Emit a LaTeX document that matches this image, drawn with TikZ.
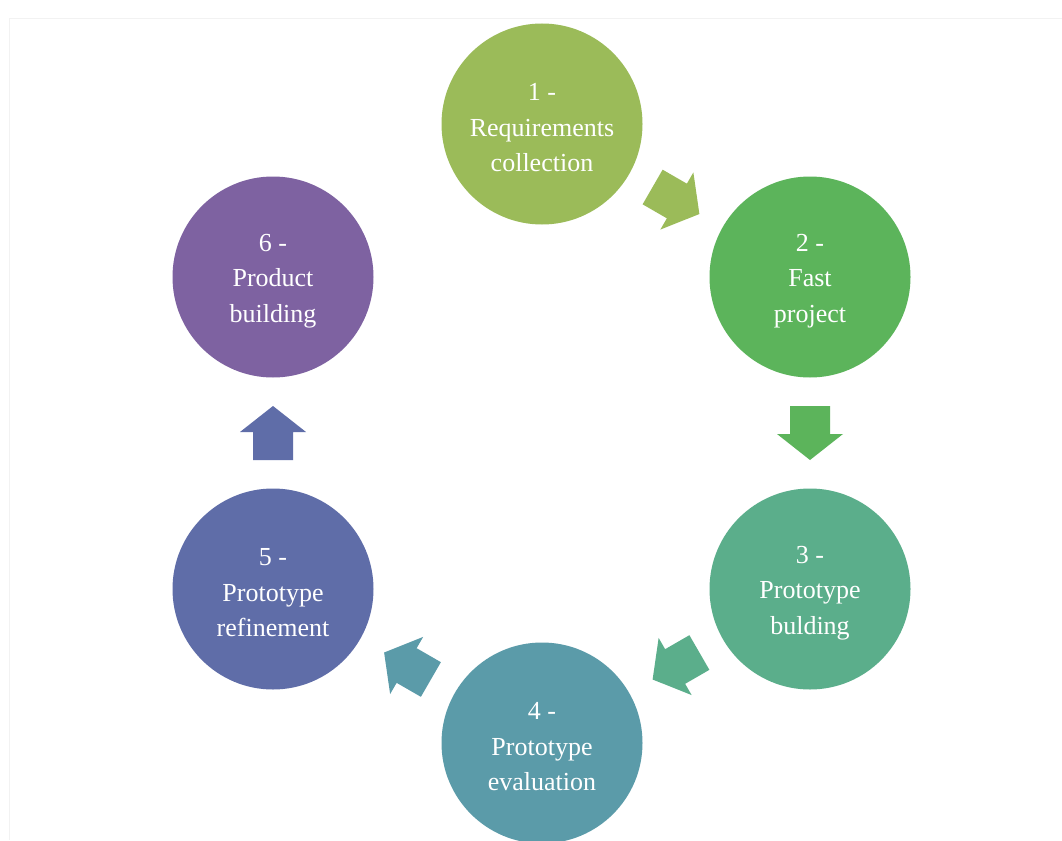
\documentclass[tikz,border=0pt]{standalone}
\usepackage{fontspec}
\setmainfont{Liberation Serif}
\usetikzlibrary{calc}

\definecolor{cA}{HTML}{9BBB59}
\definecolor{cB}{HTML}{5CB45B}
\definecolor{cC}{HTML}{5BAE8B}
\definecolor{cD}{HTML}{5B9BA9}
\definecolor{cE}{HTML}{5F6DA8}
\definecolor{cF}{HTML}{7E62A1}

\tikzset{
  stage/.style={circle, minimum size=201pt, inner sep=0pt, draw=none},
  stagetext/.style={text=white, align=center, inner sep=0pt, yshift=-4pt,
    font=\fontsize{26}{35.5}\selectfont},
  blockarrow/.style={draw=none}
}

% block arrow centred between two stages, pointing along the given angle
\newcommand{\stagearrow}[4]{%
  \fill[blockarrow, #4, shift={($(#1)!0.5!(#2)$)}, rotate=#3]
    (-27,-20) -- (1,-20) -- (1,-33) -- (27,0) -- (1,33) -- (1,20) -- (-27,20) -- cycle;%
}

\begin{document}
\begin{tikzpicture}[x=1pt, y=-1pt]
  \useasboundingbox (0,0) rectangle (1062,840);
  \fill[white] (0,0) rectangle (1062,840);

  % faint page frame
  \draw[black!5, line width=1pt] (9,840) -- (9,19) -- (1062,19);

  % stages of the cycle
  \node[stage, fill=cA, label={[stagetext]center:{1 -\\Requirements\\collection}}] (s1) at (542,124) {};
  \node[stage, fill=cB, label={[stagetext]center:{2 -\\Fast\\project}}] (s2) at (810,277) {};
  \node[stage, fill=cC, label={[stagetext]center:{3 -\\Prototype\\bulding}}] (s3) at (810,589) {};
  \node[stage, fill=cD, label={[stagetext]center:{4 -\\Prototype\\evaluation}}] (s4) at (542,743) {};
  \node[stage, fill=cE, label={[stagetext]center:{5 -\\Prototype\\refinement}}] (s5) at (273,589) {};
  \node[stage, fill=cF, label={[stagetext]center:{6 -\\Product\\building}}] (s6) at (273,277) {};

  % arrows between consecutive stages
  \stagearrow{s1}{s2}{-30}{cA}
  \stagearrow{s2}{s3}{-90}{cB}
  \stagearrow{s3}{s4}{-150}{cC}
  \stagearrow{s4}{s5}{150}{cD}
  \stagearrow{s5}{s6}{90}{cE}
\end{tikzpicture}
\end{document}
